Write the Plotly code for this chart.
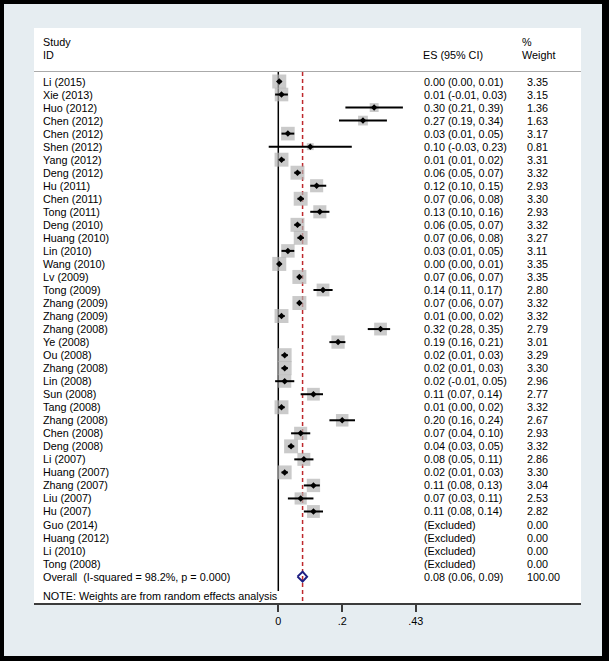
import plotly.graph_objects as go
import math

# study data (ES, 95% CI, % weight)
studies = ["Li (2015)", "Xie (2013)", "Huo (2012)", "Chen (2012)", "Chen (2012)",
           "Shen (2012)", "Yang (2012)", "Deng (2012)", "Hu (2011)", "Chen (2011)",
           "Tong (2011)", "Deng (2010)", "Huang (2010)", "Lin (2010)", "Wang (2010)",
           "Lv (2009)", "Tong (2009)", "Zhang (2009)", "Zhang (2009)", "Zhang (2008)",
           "Ye (2008)", "Ou (2008)", "Zhang (2008)", "Lin (2008)", "Sun (2008)",
           "Tang (2008)", "Zhang (2008)", "Chen (2008)", "Deng (2008)", "Li (2007)",
           "Huang (2007)", "Zhang (2007)", "Liu (2007)", "Hu (2007)"]
es = [0.003, 0.01, 0.30, 0.265, 0.03, 0.10, 0.01, 0.06, 0.12, 0.07,
      0.13, 0.06, 0.07, 0.03, 0.003, 0.066, 0.14, 0.066, 0.01, 0.32,
      0.187, 0.02, 0.02, 0.02, 0.11, 0.01, 0.20, 0.07, 0.04, 0.08,
      0.02, 0.11, 0.07, 0.11]
ci_low = [0.00, -0.01, 0.21, 0.19, 0.01, -0.03, 0.01, 0.05, 0.10, 0.06,
          0.10, 0.05, 0.06, 0.01, 0.00, 0.06, 0.11, 0.06, 0.00, 0.28,
          0.16, 0.01, 0.01, -0.01, 0.07, 0.00, 0.16, 0.04, 0.03, 0.05,
          0.01, 0.08, 0.03, 0.08]
ci_high = [0.01, 0.03, 0.39, 0.34, 0.05, 0.23, 0.02, 0.07, 0.15, 0.08,
           0.16, 0.07, 0.08, 0.05, 0.01, 0.07, 0.17, 0.07, 0.02, 0.35,
           0.21, 0.03, 0.03, 0.05, 0.14, 0.02, 0.24, 0.10, 0.05, 0.11,
           0.03, 0.13, 0.11, 0.14]
weight = [3.35, 3.15, 1.36, 1.63, 3.17, 0.81, 3.31, 3.32, 2.93, 3.30,
          2.93, 3.32, 3.27, 3.11, 3.35, 3.35, 2.80, 3.32, 3.32, 2.79,
          3.01, 3.29, 3.30, 2.96, 2.77, 3.32, 2.67, 2.93, 3.32, 2.86,
          3.30, 3.04, 2.53, 2.82]
excluded = ["Guo (2014)", "Huang (2012)", "Li (2010)", "Tong (2008)"]

overall_es = 0.076
overall_low = 0.06
overall_high = 0.09
i_squared = 98.2
p_value = 0.000

tick_vals = [0, 0.2, 0.43]
tick_text = ["0", ".2", ".43"]

# pixel geometry of the white panel
W, H = 609, 661
L, R, T, B = 34, 581, 28, 603
x0_px, px_per_unit = 278.3, 319.5
row1_px, row_px = 81.5, 13.03

def px_x(px):
    return (px - L) / (R - L)

def px_y(py):
    return (B - py) / (B - T)

n = len(studies)
rows = list(range(1, n + 1))
excl_rows = list(range(n + 1, n + 1 + len(excluded)))
overall_row = n + len(excluded) + 1

fig = go.Figure()

# grey weight boxes
fig.add_trace(go.Scatter(
    x=es, y=rows, mode="markers", hoverinfo="skip",
    marker=dict(symbol="square", color="rgb(180,180,180)",
                size=[14 * math.sqrt(w / 3.35) for w in weight], line=dict(width=0))
))

# confidence intervals + point estimates
fig.add_trace(go.Scatter(
    x=es, y=rows, mode="markers", hoverinfo="skip",
    marker=dict(symbol="diamond", color="black", size=5),
    error_x=dict(type="data", symmetric=False,
                 array=[h - e for h, e in zip(ci_high, es)],
                 arrayminus=[e - l for e, l in zip(es, ci_low)],
                 color="black", thickness=2, width=0)
))

# overall diamond
fig.add_trace(go.Scatter(
    x=[overall_low, overall_es, overall_high, overall_es, overall_low],
    y=[overall_row, overall_row - 0.38, overall_row, overall_row + 0.38, overall_row],
    mode="lines", hoverinfo="skip",
    line=dict(color="rgb(30,30,130)", width=2)
))

font = dict(family="Liberation Sans, Arial, sans-serif", size=10.8, color="black")
annotations = []

def add_text(text, x_px, row):
    annotations.append(dict(text=text, x=px_x(x_px), xref="paper", y=row, yref="y",
                            xanchor="left", yanchor="middle", showarrow=False, font=font,
                            borderpad=0, borderwidth=0))

# header
add_text("Study", 43, -2)
add_text("ID", 43, -1)
add_text("ES (95% CI)", 423, -1)
add_text("%", 522, -2)
add_text("Weight", 522, -1)

for r, s, e, lo, hi, w in zip(rows, studies, es, ci_low, ci_high, weight):
    add_text(s, 43, r)
    add_text(f"{e:.2f} ({lo:.2f}, {hi:.2f})", 424, r)
    add_text(f"{w:.2f}", 527, r)

for r, s in zip(excl_rows, excluded):
    add_text(s, 43, r)
    add_text("(Excluded)", 424, r)
    add_text("0.00", 527, r)

add_text(f"Overall  (I-squared = {i_squared:.1f}%, p = {p_value:.3f})", 43, overall_row)
add_text(f"{overall_es:.2f} ({overall_low:.2f}, {overall_high:.2f})", 424, overall_row)
add_text("100.00", 527, overall_row)
add_text("NOTE: Weights are from random effects analysis", 43, overall_row + 1.5)

shapes = [
    # black frame
    dict(type="rect", xref="paper", yref="paper", x0=px_x(0), x1=px_x(W), y0=px_y(0), y1=px_y(4),
         fillcolor="black", line_width=0, layer="below"),
    dict(type="rect", xref="paper", yref="paper", x0=px_x(0), x1=px_x(W), y0=px_y(656), y1=px_y(H),
         fillcolor="black", line_width=0, layer="below"),
    dict(type="rect", xref="paper", yref="paper", x0=px_x(0), x1=px_x(4), y0=px_y(0), y1=px_y(H),
         fillcolor="black", line_width=0, layer="below"),
    dict(type="rect", xref="paper", yref="paper", x0=px_x(602), x1=px_x(W), y0=px_y(0), y1=px_y(H),
         fillcolor="black", line_width=0, layer="below"),
    # header rule
    dict(type="line", xref="paper", yref="paper", x0=0, x1=1, y0=px_y(71.5), y1=px_y(71.5),
         line=dict(color="rgb(170,170,170)", width=1)),
    # null line
    dict(type="line", xref="x", yref="paper", x0=0, x1=0, y0=px_y(72), y1=px_y(591),
         line=dict(color="black", width=1.5), layer="below"),
    # overall effect line
    dict(type="line", xref="x", yref="paper", x0=overall_es, x1=overall_es, y0=px_y(72), y1=px_y(602),
         line=dict(color="rgb(190,40,45)", width=1.5, dash="4px,3px"), layer="below"),
]

fig.update_layout(
    width=W, height=H,
    margin=dict(l=L, r=W - R, t=T, b=H - B, pad=0),
    paper_bgcolor="rgb(230,237,241)",
    plot_bgcolor="white",
    showlegend=False,
    annotations=annotations,
    shapes=shapes,
    font=font,
    xaxis=dict(range=[(L - x0_px) / px_per_unit, (R - x0_px) / px_per_unit],
               tickvals=tick_vals, ticktext=tick_text, ticks="outside", ticklen=7,
               tickwidth=2, tickcolor="rgb(60,60,60)", showline=True,
               linecolor="rgb(60,60,60)", linewidth=2, showgrid=False, zeroline=False,
               fixedrange=True, tickfont=font),
    yaxis=dict(range=[1 + (B - row1_px) / row_px, 1 + (T - row1_px) / row_px],
               visible=False, showgrid=False, zeroline=False, fixedrange=True),
)

fig.write_html("out.html", config={"displayModeBar": False},
               post_script="document.body.style.margin='0';document.body.style.overflow='hidden';")
